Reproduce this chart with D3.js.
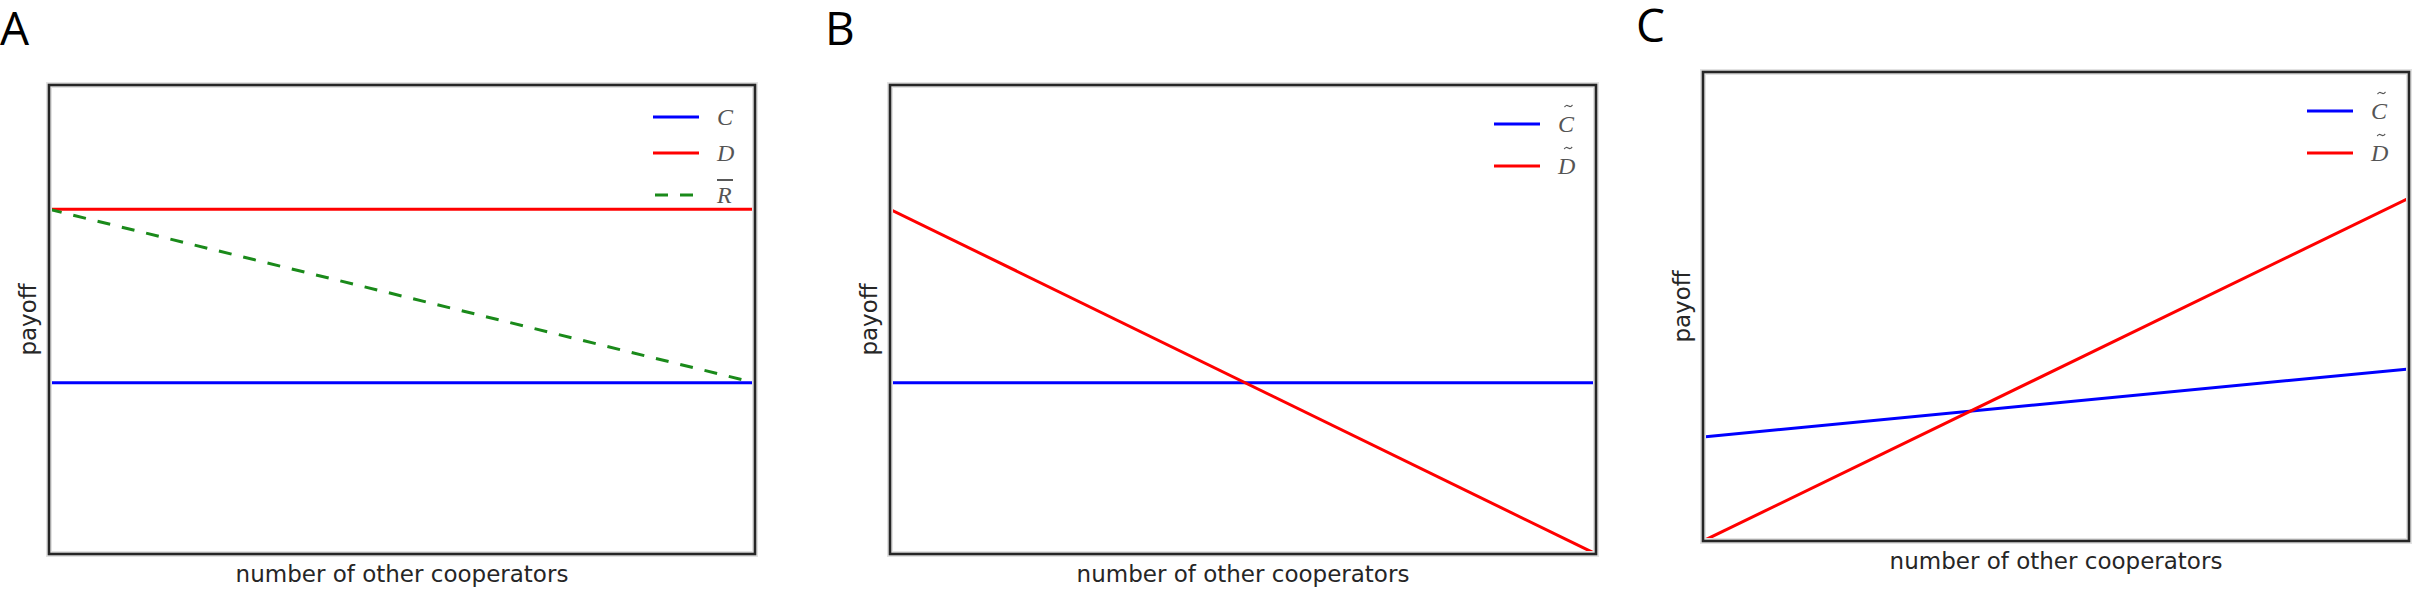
<!DOCTYPE html>
<html lang="en">
<head>
<meta charset="utf-8">
<title>Payoff vs number of other cooperators</title>
<script src="https://d3js.org/d3.v7.min.js"></script>
<style>
  body { margin: 0; background: #fff; }
  .panel-letter { font-family: "Open Sans", sans-serif; font-size: 46px; fill: #000; }
  .axis-label { font-family: "DejaVu Sans", sans-serif; font-size: 23px; fill: #262626; }
  .legend-text { font-family: "Liberation Serif", serif; font-style: italic; font-size: 24px; fill: #555; }
</style>
</head>
<body>
<script>
// x: number of other cooperators (endpoints only, no ticks shown)
var xCoop = [0, 1];

// panel A
var aC = [0.365, 0.365];
var aD = [0.735, 0.735];
var aR = [0.735, 0.365];

// panel B
var bC = [0.365, 0.365];
var bD = [0.735, 0.0];

// panel C
var cC = [0.222, 0.367];
var cD = [0.0, 0.731];

var legendA = ["C", "D", "R"];
var legendB = ["C", "D"];
var legendC = ["C", "D"];

var blue = "#0000ff", red = "#ff0000", green = "#1a8a1a";

var panels = [
  { letter: "A", left: 49, top: 85, letterX: 0, letterY: 45,
    series: [
      { y: aC, color: blue, dash: null, label: legendA[0], accent: "" },
      { y: aD, color: red, dash: null, label: legendA[1], accent: "" },
      { y: aR, color: green, dash: "13,12", label: legendA[2], accent: "bar" }
    ],
    rows: [32, 68, 110] },
  { letter: "B", left: 890, top: 85, letterX: 825, letterY: 45,
    series: [
      { y: bC, color: blue, dash: null, label: legendB[0], accent: "tilde" },
      { y: bD, color: red, dash: null, label: legendB[1], accent: "tilde" }
    ],
    rows: [39, 81] },
  { letter: "C", left: 1703, top: 72, letterX: 1636, letterY: 42,
    series: [
      { y: cC, color: blue, dash: null, label: legendC[0], accent: "tilde" },
      { y: cD, color: red, dash: null, label: legendC[1], accent: "tilde" }
    ],
    rows: [39, 81] }
];

var width = 706, height = 469;

var svg = d3.select("body").append("svg")
    .attr("width", 2423)
    .attr("height", 600);

var x = d3.scaleLinear().domain([0, 1]).range([0, width]);
var y = d3.scaleLinear().domain([0, 1]).range([height, 0]);

var line = d3.line()
    .x(function(d, i) { return x(xCoop[i]); })
    .y(function(d) { return y(d); });

// little tilde accent drawn as a path
var tildeShape = [[-4, 1], [-2, -1], [0, 0], [2, 1], [4, -1]];
var tilde = d3.line().curve(d3.curveBasis);

panels.forEach(function(p, pi) {
  svg.append("text")
      .attr("class", "panel-letter")
      .attr("x", p.letterX)
      .attr("y", p.letterY)
      .text(p.letter);

  var g = svg.append("g")
      .attr("transform", "translate(" + p.left + "," + p.top + ")");

  g.append("clipPath")
      .attr("id", "clip" + pi)
    .append("rect")
      .attr("width", width)
      .attr("height", height);

  // data lines
  var plot = g.append("g").attr("clip-path", "url(#clip" + pi + ")");
  p.series.forEach(function(s) {
    plot.append("path")
        .datum(s.y)
        .attr("d", line)
        .attr("fill", "none")
        .attr("stroke", s.color)
        .attr("stroke-width", 3)
        .attr("stroke-dasharray", s.dash);
  });

  // frame (light halo + dark edge)
  g.append("rect")
      .attr("width", width).attr("height", height)
      .attr("fill", "none").attr("stroke", "#e2e2e2").attr("stroke-width", 6);
  g.append("rect")
      .attr("width", width).attr("height", height)
      .attr("fill", "none").attr("stroke", "#262626").attr("stroke-width", 2.6);

  // axis labels
  g.append("text")
      .attr("class", "axis-label")
      .attr("x", width / 2)
      .attr("y", height + 28)
      .attr("text-anchor", "middle")
      .text("number of other cooperators");

  g.append("text")
      .attr("class", "axis-label")
      .attr("transform", "translate(-13," + (height / 2) + ") rotate(-90)")
      .attr("text-anchor", "middle")
      .text("payoff");

  // legend
  p.series.forEach(function(s, i) {
    var ry = p.rows[i];
    g.append("line")
        .attr("x1", width - 102 + (s.dash ? 2 : 0)).attr("x2", width - 56)
        .attr("y1", ry).attr("y2", ry)
        .attr("stroke", s.color)
        .attr("stroke-width", 3)
        .attr("stroke-dasharray", s.dash);
    var t = g.append("text")
        .attr("class", "legend-text")
        .attr("x", width - 38)
        .attr("y", ry + 8)
        .text(s.label);
    var bb = t.node().getBBox();
    if (s.accent === "bar") {
      g.append("line")
          .attr("x1", bb.x + 1).attr("x2", bb.x + bb.width + 1)
          .attr("y1", ry - 15).attr("y2", ry - 15)
          .attr("stroke", "#222").attr("stroke-width", 1.5);
    } else if (s.accent === "tilde") {
      g.append("path")
          .attr("transform", "translate(" + (bb.x + bb.width / 2 + 2) + "," + (ry - 18) + ")")
          .attr("d", tilde(tildeShape))
          .attr("fill", "none")
          .attr("stroke", "#555")
          .attr("stroke-width", 1.2);
    }
  });
});
</script>
</body>
</html>
